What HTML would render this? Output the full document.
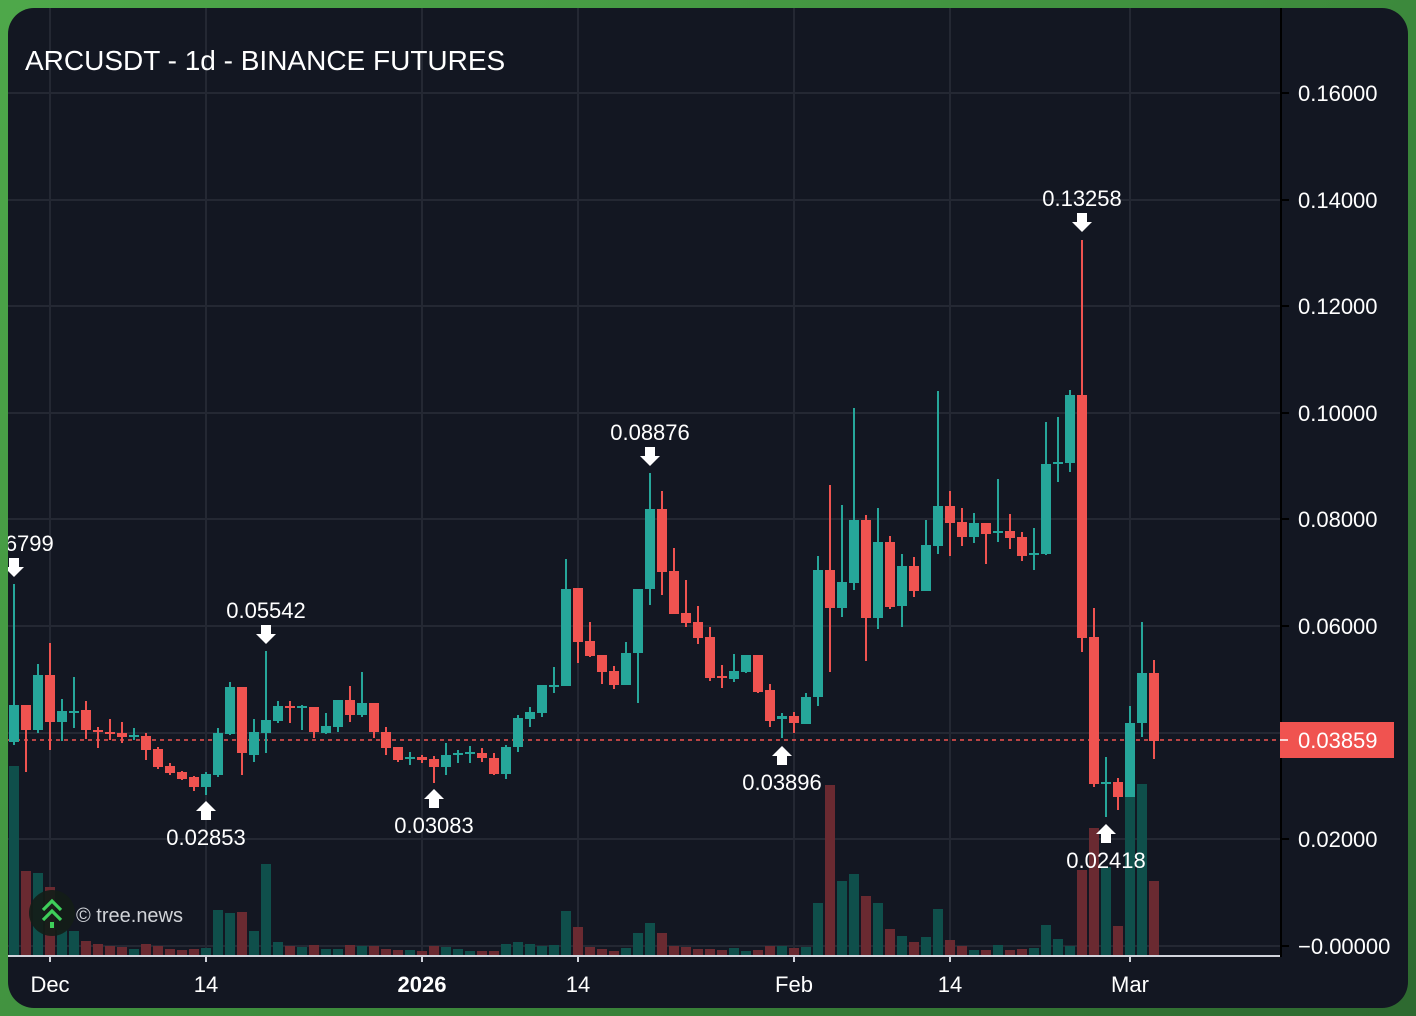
<!DOCTYPE html>
<html><head><meta charset="utf-8"><style>
html,body{margin:0;padding:0;width:1416px;height:1016px;overflow:hidden;background:linear-gradient(135deg,#4ea84a 0%,#3f8f3e 50%,#2e6930 100%);}
svg{display:block;font-family:"Liberation Sans",Arial,sans-serif;}
</style></head><body>
<svg width="1416" height="1016" viewBox="0 0 1416 1016" xmlns="http://www.w3.org/2000/svg">
<defs>
<clipPath id="panel"><rect x="8" y="8" width="1400" height="1000" rx="26" ry="26"/></clipPath>
<clipPath id="plot"><rect x="8" y="8" width="1273" height="948"/></clipPath>
</defs>
<rect x="8" y="8" width="1400" height="1000" rx="26" ry="26" fill="#131722"/>
<g clip-path="url(#panel)">
<g stroke="#242833" stroke-width="2">
<line x1="8" x2="1281" y1="93" y2="93"/><line x1="8" x2="1281" y1="200" y2="200"/><line x1="8" x2="1281" y1="306" y2="306"/><line x1="8" x2="1281" y1="413" y2="413"/><line x1="8" x2="1281" y1="519" y2="519"/><line x1="8" x2="1281" y1="626" y2="626"/><line x1="8" x2="1281" y1="733" y2="733"/><line x1="8" x2="1281" y1="839" y2="839"/><line x1="8" x2="1281" y1="946" y2="946"/>
<line y1="8" y2="956" x1="50" x2="50"/><line y1="8" y2="956" x1="206" x2="206"/><line y1="8" y2="956" x1="422" x2="422"/><line y1="8" y2="956" x1="578" x2="578"/><line y1="8" y2="956" x1="794" x2="794"/><line y1="8" y2="956" x1="950" x2="950"/><line y1="8" y2="956" x1="1130" x2="1130"/>
</g>
<g clip-path="url(#plot)">
<g id="vol">
<rect x="9" y="766" width="10" height="189" fill="#0f4f4b"/><rect x="21" y="871" width="10" height="84" fill="#6a2a31"/><rect x="33" y="873" width="10" height="82" fill="#0f4f4b"/><rect x="45" y="887" width="10" height="68" fill="#6a2a31"/><rect x="57" y="930" width="10" height="25" fill="#0f4f4b"/><rect x="69" y="931" width="10" height="24" fill="#0f4f4b"/><rect x="81" y="941" width="10" height="14" fill="#6a2a31"/><rect x="93" y="944" width="10" height="11" fill="#6a2a31"/><rect x="105" y="946" width="10" height="9" fill="#6a2a31"/><rect x="117" y="947" width="10" height="8" fill="#6a2a31"/><rect x="129" y="949" width="10" height="6" fill="#0f4f4b"/><rect x="141" y="944" width="10" height="11" fill="#6a2a31"/><rect x="153" y="946" width="10" height="9" fill="#6a2a31"/><rect x="165" y="949" width="10" height="6" fill="#6a2a31"/><rect x="177" y="950" width="10" height="5" fill="#6a2a31"/><rect x="189" y="949" width="10" height="6" fill="#6a2a31"/><rect x="201" y="948" width="10" height="7" fill="#0f4f4b"/><rect x="213" y="910" width="10" height="45" fill="#0f4f4b"/><rect x="225" y="913" width="10" height="42" fill="#0f4f4b"/><rect x="237" y="912" width="10" height="43" fill="#6a2a31"/><rect x="249" y="931" width="10" height="24" fill="#0f4f4b"/><rect x="261" y="864" width="10" height="91" fill="#0f4f4b"/><rect x="273" y="942" width="10" height="13" fill="#0f4f4b"/><rect x="285" y="946" width="10" height="9" fill="#6a2a31"/><rect x="297" y="947" width="10" height="8" fill="#0f4f4b"/><rect x="309" y="945" width="10" height="10" fill="#6a2a31"/><rect x="321" y="949" width="10" height="6" fill="#0f4f4b"/><rect x="333" y="949" width="10" height="6" fill="#0f4f4b"/><rect x="345" y="945" width="10" height="10" fill="#6a2a31"/><rect x="357" y="946" width="10" height="9" fill="#0f4f4b"/><rect x="369" y="946" width="10" height="9" fill="#6a2a31"/><rect x="381" y="949" width="10" height="6" fill="#6a2a31"/><rect x="393" y="950" width="10" height="5" fill="#6a2a31"/><rect x="405" y="950" width="10" height="5" fill="#0f4f4b"/><rect x="417" y="951" width="10" height="4" fill="#6a2a31"/><rect x="429" y="946" width="10" height="9" fill="#6a2a31"/><rect x="441" y="947" width="10" height="8" fill="#0f4f4b"/><rect x="453" y="949" width="10" height="6" fill="#0f4f4b"/><rect x="465" y="951" width="10" height="4" fill="#0f4f4b"/><rect x="477" y="951" width="10" height="4" fill="#6a2a31"/><rect x="489" y="951" width="10" height="4" fill="#6a2a31"/><rect x="501" y="944" width="10" height="11" fill="#0f4f4b"/><rect x="513" y="942" width="10" height="13" fill="#0f4f4b"/><rect x="525" y="944" width="10" height="11" fill="#0f4f4b"/><rect x="537" y="946" width="10" height="9" fill="#0f4f4b"/><rect x="549" y="945" width="10" height="10" fill="#0f4f4b"/><rect x="561" y="911" width="10" height="44" fill="#0f4f4b"/><rect x="573" y="927" width="10" height="28" fill="#6a2a31"/><rect x="585" y="947" width="10" height="8" fill="#6a2a31"/><rect x="597" y="949" width="10" height="6" fill="#6a2a31"/><rect x="609" y="951" width="10" height="4" fill="#6a2a31"/><rect x="621" y="948" width="10" height="7" fill="#0f4f4b"/><rect x="633" y="933" width="10" height="22" fill="#0f4f4b"/><rect x="645" y="923" width="10" height="32" fill="#0f4f4b"/><rect x="657" y="933" width="10" height="22" fill="#6a2a31"/><rect x="669" y="946" width="10" height="9" fill="#6a2a31"/><rect x="681" y="947" width="10" height="8" fill="#6a2a31"/><rect x="693" y="949" width="10" height="6" fill="#6a2a31"/><rect x="705" y="949" width="10" height="6" fill="#6a2a31"/><rect x="717" y="950" width="10" height="5" fill="#6a2a31"/><rect x="729" y="948" width="10" height="7" fill="#0f4f4b"/><rect x="741" y="951" width="10" height="4" fill="#0f4f4b"/><rect x="753" y="950" width="10" height="5" fill="#6a2a31"/><rect x="765" y="946" width="10" height="9" fill="#6a2a31"/><rect x="777" y="946" width="10" height="9" fill="#0f4f4b"/><rect x="789" y="948" width="10" height="7" fill="#6a2a31"/><rect x="801" y="947" width="10" height="8" fill="#0f4f4b"/><rect x="813" y="903" width="10" height="52" fill="#0f4f4b"/><rect x="825" y="785" width="10" height="170" fill="#6a2a31"/><rect x="837" y="881" width="10" height="74" fill="#0f4f4b"/><rect x="849" y="874" width="10" height="81" fill="#0f4f4b"/><rect x="861" y="896" width="10" height="59" fill="#6a2a31"/><rect x="873" y="903" width="10" height="52" fill="#0f4f4b"/><rect x="885" y="929" width="10" height="26" fill="#6a2a31"/><rect x="897" y="936" width="10" height="19" fill="#0f4f4b"/><rect x="909" y="942" width="10" height="13" fill="#6a2a31"/><rect x="921" y="937" width="10" height="18" fill="#0f4f4b"/><rect x="933" y="909" width="10" height="46" fill="#0f4f4b"/><rect x="945" y="940" width="10" height="15" fill="#6a2a31"/><rect x="957" y="946" width="10" height="9" fill="#6a2a31"/><rect x="969" y="950" width="10" height="5" fill="#0f4f4b"/><rect x="981" y="950" width="10" height="5" fill="#6a2a31"/><rect x="993" y="945" width="10" height="10" fill="#0f4f4b"/><rect x="1005" y="950" width="10" height="5" fill="#6a2a31"/><rect x="1017" y="949" width="10" height="6" fill="#6a2a31"/><rect x="1029" y="948" width="10" height="7" fill="#0f4f4b"/><rect x="1041" y="925" width="10" height="30" fill="#0f4f4b"/><rect x="1053" y="939" width="10" height="16" fill="#0f4f4b"/><rect x="1065" y="946" width="10" height="9" fill="#0f4f4b"/><rect x="1077" y="870" width="10" height="85" fill="#6a2a31"/><rect x="1089" y="828" width="10" height="127" fill="#6a2a31"/><rect x="1101" y="867" width="10" height="88" fill="#0f4f4b"/><rect x="1113" y="926" width="10" height="29" fill="#6a2a31"/><rect x="1125" y="797" width="10" height="158" fill="#0f4f4b"/><rect x="1137" y="784" width="10" height="171" fill="#0f4f4b"/><rect x="1149" y="881" width="10" height="74" fill="#6a2a31"/>
</g>
<line x1="8" x2="1281" y1="740" y2="740" stroke="#ef5350" stroke-width="1.5" stroke-dasharray="4,4"/>
<g id="candles">
<g fill="#26a69a"><rect x="13" y="584" width="2" height="161"/><rect x="9" y="705" width="10" height="37"/></g>
<g fill="#ef5350"><rect x="25" y="705" width="2" height="67"/><rect x="21" y="705" width="10" height="25"/></g>
<g fill="#26a69a"><rect x="37" y="664" width="2" height="69"/><rect x="33" y="675" width="10" height="55"/></g>
<g fill="#ef5350"><rect x="49" y="643" width="2" height="107"/><rect x="45" y="675" width="10" height="47"/></g>
<g fill="#26a69a"><rect x="61" y="699" width="2" height="42"/><rect x="57" y="711" width="10" height="11"/></g>
<g fill="#26a69a"><rect x="73" y="677" width="2" height="51"/><rect x="69" y="711" width="10" height="2"/></g>
<g fill="#ef5350"><rect x="85" y="701" width="2" height="38"/><rect x="81" y="710" width="10" height="20"/></g>
<g fill="#ef5350"><rect x="97" y="727" width="2" height="21"/><rect x="93" y="730" width="10" height="2"/></g>
<g fill="#ef5350"><rect x="109" y="719" width="2" height="21"/><rect x="105" y="732" width="10" height="2"/></g>
<g fill="#ef5350"><rect x="121" y="722" width="2" height="21"/><rect x="117" y="733" width="10" height="4"/></g>
<g fill="#26a69a"><rect x="133" y="728" width="2" height="12"/><rect x="129" y="735" width="10" height="2"/></g>
<g fill="#ef5350"><rect x="145" y="733" width="2" height="27"/><rect x="141" y="736" width="10" height="14"/></g>
<g fill="#ef5350"><rect x="157" y="747" width="2" height="22"/><rect x="153" y="749" width="10" height="18"/></g>
<g fill="#ef5350"><rect x="169" y="763" width="2" height="12"/><rect x="165" y="766" width="10" height="7"/></g>
<g fill="#ef5350"><rect x="181" y="771" width="2" height="9"/><rect x="177" y="772" width="10" height="7"/></g>
<g fill="#ef5350"><rect x="193" y="776" width="2" height="15"/><rect x="189" y="777" width="10" height="10"/></g>
<g fill="#26a69a"><rect x="205" y="772" width="2" height="23"/><rect x="201" y="774" width="10" height="13"/></g>
<g fill="#26a69a"><rect x="217" y="728" width="2" height="49"/><rect x="213" y="733" width="10" height="42"/></g>
<g fill="#26a69a"><rect x="229" y="682" width="2" height="53"/><rect x="225" y="687" width="10" height="47"/></g>
<g fill="#ef5350"><rect x="241" y="687" width="2" height="88"/><rect x="237" y="687" width="10" height="66"/></g>
<g fill="#26a69a"><rect x="253" y="719" width="2" height="43"/><rect x="249" y="732" width="10" height="23"/></g>
<g fill="#26a69a"><rect x="265" y="651" width="2" height="102"/><rect x="261" y="720" width="10" height="13"/></g>
<g fill="#26a69a"><rect x="277" y="701" width="2" height="22"/><rect x="273" y="706" width="10" height="15"/></g>
<g fill="#ef5350"><rect x="289" y="701" width="2" height="22"/><rect x="285" y="706" width="10" height="2"/></g>
<g fill="#26a69a"><rect x="301" y="705" width="2" height="25"/><rect x="297" y="706" width="10" height="2"/></g>
<g fill="#ef5350"><rect x="313" y="707" width="2" height="31"/><rect x="309" y="707" width="10" height="25"/></g>
<g fill="#26a69a"><rect x="325" y="713" width="2" height="21"/><rect x="321" y="726" width="10" height="7"/></g>
<g fill="#26a69a"><rect x="337" y="700" width="2" height="32"/><rect x="333" y="700" width="10" height="27"/></g>
<g fill="#ef5350"><rect x="349" y="686" width="2" height="36"/><rect x="345" y="700" width="10" height="15"/></g>
<g fill="#26a69a"><rect x="361" y="672" width="2" height="45"/><rect x="357" y="703" width="10" height="12"/></g>
<g fill="#ef5350"><rect x="373" y="703" width="2" height="35"/><rect x="369" y="703" width="10" height="29"/></g>
<g fill="#ef5350"><rect x="385" y="727" width="2" height="28"/><rect x="381" y="732" width="10" height="16"/></g>
<g fill="#ef5350"><rect x="397" y="747" width="2" height="15"/><rect x="393" y="747" width="10" height="13"/></g>
<g fill="#26a69a"><rect x="409" y="752" width="2" height="13"/><rect x="405" y="757" width="10" height="2"/></g>
<g fill="#ef5350"><rect x="421" y="755" width="2" height="8"/><rect x="417" y="757" width="10" height="3"/></g>
<g fill="#ef5350"><rect x="433" y="756" width="2" height="27"/><rect x="429" y="759" width="10" height="8"/></g>
<g fill="#26a69a"><rect x="445" y="743" width="2" height="32"/><rect x="441" y="755" width="10" height="12"/></g>
<g fill="#26a69a"><rect x="457" y="750" width="2" height="13"/><rect x="453" y="753" width="10" height="2"/></g>
<g fill="#26a69a"><rect x="469" y="746" width="2" height="17"/><rect x="465" y="752" width="10" height="2"/></g>
<g fill="#ef5350"><rect x="481" y="748" width="2" height="14"/><rect x="477" y="753" width="10" height="5"/></g>
<g fill="#ef5350"><rect x="493" y="753" width="2" height="22"/><rect x="489" y="758" width="10" height="16"/></g>
<g fill="#26a69a"><rect x="505" y="745" width="2" height="34"/><rect x="501" y="747" width="10" height="27"/></g>
<g fill="#26a69a"><rect x="517" y="715" width="2" height="37"/><rect x="513" y="718" width="10" height="29"/></g>
<g fill="#26a69a"><rect x="529" y="707" width="2" height="20"/><rect x="525" y="712" width="10" height="7"/></g>
<g fill="#26a69a"><rect x="541" y="685" width="2" height="32"/><rect x="537" y="685" width="10" height="28"/></g>
<g fill="#26a69a"><rect x="553" y="667" width="2" height="26"/><rect x="549" y="685" width="10" height="2"/></g>
<g fill="#26a69a"><rect x="565" y="559" width="2" height="127"/><rect x="561" y="589" width="10" height="97"/></g>
<g fill="#ef5350"><rect x="577" y="588" width="2" height="75"/><rect x="573" y="588" width="10" height="54"/></g>
<g fill="#ef5350"><rect x="589" y="622" width="2" height="35"/><rect x="585" y="641" width="10" height="15"/></g>
<g fill="#ef5350"><rect x="601" y="655" width="2" height="29"/><rect x="597" y="655" width="10" height="17"/></g>
<g fill="#ef5350"><rect x="613" y="666" width="2" height="23"/><rect x="609" y="671" width="10" height="14"/></g>
<g fill="#26a69a"><rect x="625" y="642" width="2" height="43"/><rect x="621" y="653" width="10" height="32"/></g>
<g fill="#26a69a"><rect x="637" y="589" width="2" height="114"/><rect x="633" y="589" width="10" height="64"/></g>
<g fill="#26a69a"><rect x="649" y="473" width="2" height="132"/><rect x="645" y="509" width="10" height="80"/></g>
<g fill="#ef5350"><rect x="661" y="491" width="2" height="104"/><rect x="657" y="509" width="10" height="63"/></g>
<g fill="#ef5350"><rect x="673" y="548" width="2" height="66"/><rect x="669" y="571" width="10" height="43"/></g>
<g fill="#ef5350"><rect x="685" y="580" width="2" height="47"/><rect x="681" y="613" width="10" height="10"/></g>
<g fill="#ef5350"><rect x="697" y="606" width="2" height="38"/><rect x="693" y="622" width="10" height="16"/></g>
<g fill="#ef5350"><rect x="709" y="627" width="2" height="54"/><rect x="705" y="637" width="10" height="41"/></g>
<g fill="#ef5350"><rect x="721" y="665" width="2" height="23"/><rect x="717" y="676" width="10" height="2"/></g>
<g fill="#26a69a"><rect x="733" y="654" width="2" height="28"/><rect x="729" y="671" width="10" height="8"/></g>
<g fill="#26a69a"><rect x="745" y="655" width="2" height="18"/><rect x="741" y="655" width="10" height="17"/></g>
<g fill="#ef5350"><rect x="757" y="655" width="2" height="38"/><rect x="753" y="655" width="10" height="37"/></g>
<g fill="#ef5350"><rect x="769" y="684" width="2" height="43"/><rect x="765" y="690" width="10" height="31"/></g>
<g fill="#26a69a"><rect x="781" y="713" width="2" height="25"/><rect x="777" y="716" width="10" height="3"/></g>
<g fill="#ef5350"><rect x="793" y="712" width="2" height="21"/><rect x="789" y="716" width="10" height="7"/></g>
<g fill="#26a69a"><rect x="805" y="693" width="2" height="31"/><rect x="801" y="697" width="10" height="27"/></g>
<g fill="#26a69a"><rect x="817" y="556" width="2" height="150"/><rect x="813" y="570" width="10" height="127"/></g>
<g fill="#ef5350"><rect x="829" y="485" width="2" height="187"/><rect x="825" y="570" width="10" height="38"/></g>
<g fill="#26a69a"><rect x="841" y="505" width="2" height="112"/><rect x="837" y="582" width="10" height="26"/></g>
<g fill="#26a69a"><rect x="853" y="408" width="2" height="182"/><rect x="849" y="520" width="10" height="63"/></g>
<g fill="#ef5350"><rect x="865" y="515" width="2" height="146"/><rect x="861" y="520" width="10" height="98"/></g>
<g fill="#26a69a"><rect x="877" y="508" width="2" height="121"/><rect x="873" y="542" width="10" height="76"/></g>
<g fill="#ef5350"><rect x="889" y="536" width="2" height="73"/><rect x="885" y="542" width="10" height="65"/></g>
<g fill="#26a69a"><rect x="901" y="554" width="2" height="73"/><rect x="897" y="566" width="10" height="40"/></g>
<g fill="#ef5350"><rect x="913" y="557" width="2" height="40"/><rect x="909" y="566" width="10" height="25"/></g>
<g fill="#26a69a"><rect x="925" y="520" width="2" height="71"/><rect x="921" y="545" width="10" height="46"/></g>
<g fill="#26a69a"><rect x="937" y="391" width="2" height="163"/><rect x="933" y="506" width="10" height="40"/></g>
<g fill="#ef5350"><rect x="949" y="491" width="2" height="65"/><rect x="945" y="506" width="10" height="17"/></g>
<g fill="#ef5350"><rect x="961" y="508" width="2" height="38"/><rect x="957" y="522" width="10" height="15"/></g>
<g fill="#26a69a"><rect x="973" y="513" width="2" height="30"/><rect x="969" y="523" width="10" height="14"/></g>
<g fill="#ef5350"><rect x="985" y="523" width="2" height="41"/><rect x="981" y="523" width="10" height="11"/></g>
<g fill="#26a69a"><rect x="997" y="479" width="2" height="63"/><rect x="993" y="531" width="10" height="2"/></g>
<g fill="#ef5350"><rect x="1009" y="514" width="2" height="35"/><rect x="1005" y="531" width="10" height="7"/></g>
<g fill="#ef5350"><rect x="1021" y="532" width="2" height="29"/><rect x="1017" y="537" width="10" height="19"/></g>
<g fill="#26a69a"><rect x="1033" y="528" width="2" height="42"/><rect x="1029" y="553" width="10" height="2"/></g>
<g fill="#26a69a"><rect x="1045" y="422" width="2" height="133"/><rect x="1041" y="464" width="10" height="90"/></g>
<g fill="#26a69a"><rect x="1057" y="417" width="2" height="65"/><rect x="1053" y="462" width="10" height="2"/></g>
<g fill="#26a69a"><rect x="1069" y="390" width="2" height="82"/><rect x="1065" y="395" width="10" height="68"/></g>
<g fill="#ef5350"><rect x="1081" y="240" width="2" height="412"/><rect x="1077" y="395" width="10" height="243"/></g>
<g fill="#ef5350"><rect x="1093" y="608" width="2" height="179"/><rect x="1089" y="637" width="10" height="147"/></g>
<g fill="#26a69a"><rect x="1105" y="757" width="2" height="60"/><rect x="1101" y="782" width="10" height="2"/></g>
<g fill="#ef5350"><rect x="1117" y="778" width="2" height="32"/><rect x="1113" y="782" width="10" height="15"/></g>
<g fill="#26a69a"><rect x="1129" y="706" width="2" height="91"/><rect x="1125" y="723" width="10" height="74"/></g>
<g fill="#26a69a"><rect x="1141" y="622" width="2" height="115"/><rect x="1137" y="673" width="10" height="50"/></g>
<g fill="#ef5350"><rect x="1153" y="660" width="2" height="99"/><rect x="1149" y="673" width="10" height="68"/></g>
</g>
<g fill="#ffffff" font-size="22" text-anchor="middle">
<text x="14" y="551">0.06799</text><path d="M9 558h10v9h5l-10 10l-10-10h5z"/>
<text x="266" y="618">0.05542</text><path d="M261 625h10v9h5l-10 10l-10-10h5z"/>
<text x="650" y="440">0.08876</text><path d="M645 447h10v9h5l-10 10l-10-10h5z"/>
<text x="1082" y="206">0.13258</text><path d="M1077 213h10v9h5l-10 10l-10-10h5z"/>
<path d="M201 820h10v-9h5l-10-10l-10 10h5z"/><text x="206" y="845">0.02853</text>
<path d="M429 808h10v-9h5l-10-10l-10 10h5z"/><text x="434" y="833">0.03083</text>
<path d="M777 765h10v-9h5l-10-10l-10 10h5z"/><text x="782" y="790">0.03896</text>
<path d="M1101 843h10v-9h5l-10-10l-10 10h5z"/><text x="1106" y="868">0.02418</text>
</g>
</g>
<text x="25" y="70" fill="#ffffff" font-size="28">ARCUSDT - 1d - BINANCE FUTURES</text>
<circle cx="52" cy="913" r="23" fill="#141d18" fill-opacity="0.92"/>
<g fill="none" stroke="#3ecf5a" stroke-width="3.2">
<path d="M43 910l9-9l9 9"/><path d="M43 920l9-9l9 9"/>
</g>
<rect x="50" y="922" width="4" height="6" fill="#3ecf5a"/>
<text x="76" y="922" fill="#d0d3d8" font-size="20">© tree.news</text>
<line x1="8" x2="1282" y1="956" y2="956" stroke="#d1d4dc" stroke-width="2"/>
<line x1="1281" x2="1281" y1="8" y2="957" stroke="#000000" stroke-width="2"/>
<g stroke="#000" stroke-width="2">
<line x1="1282" x2="1289" y1="93" y2="93"/><line x1="1282" x2="1289" y1="200" y2="200"/><line x1="1282" x2="1289" y1="306" y2="306"/><line x1="1282" x2="1289" y1="413" y2="413"/><line x1="1282" x2="1289" y1="519" y2="519"/><line x1="1282" x2="1289" y1="626" y2="626"/><line x1="1282" x2="1289" y1="839" y2="839"/><line x1="1282" x2="1289" y1="946" y2="946"/>
</g>
<g stroke="#d1d4dc" stroke-width="2">
<line x1="50" x2="50" y1="956" y2="962"/><line x1="206" x2="206" y1="956" y2="962"/><line x1="422" x2="422" y1="956" y2="962"/><line x1="578" x2="578" y1="956" y2="962"/><line x1="794" x2="794" y1="956" y2="962"/><line x1="950" x2="950" y1="956" y2="962"/><line x1="1130" x2="1130" y1="956" y2="962"/>
</g>
<g fill="#ffffff" font-size="22">
<text x="1298" y="101">0.16000</text><text x="1298" y="208">0.14000</text><text x="1298" y="314">0.12000</text><text x="1298" y="421">0.10000</text><text x="1298" y="527">0.08000</text><text x="1298" y="634">0.06000</text><text x="1298" y="847">0.02000</text><text x="1298" y="954">−0.00000</text>
</g>
<rect x="1280" y="722" width="114" height="36" fill="#f05350"/>
<line x1="1280" x2="1288" y1="740" y2="740" stroke="#fff" stroke-width="1.5"/>
<text x="1298" y="748" fill="#ffffff" font-size="22">0.03859</text>
<g fill="#ffffff" font-size="22" text-anchor="middle">
<text x="50" y="992">Dec</text><text x="206" y="992">14</text><text x="422" y="992" font-weight="bold">2026</text><text x="578" y="992">14</text><text x="794" y="992">Feb</text><text x="950" y="992">14</text><text x="1130" y="992">Mar</text>
</g>
</g>
</svg>
</body></html>
